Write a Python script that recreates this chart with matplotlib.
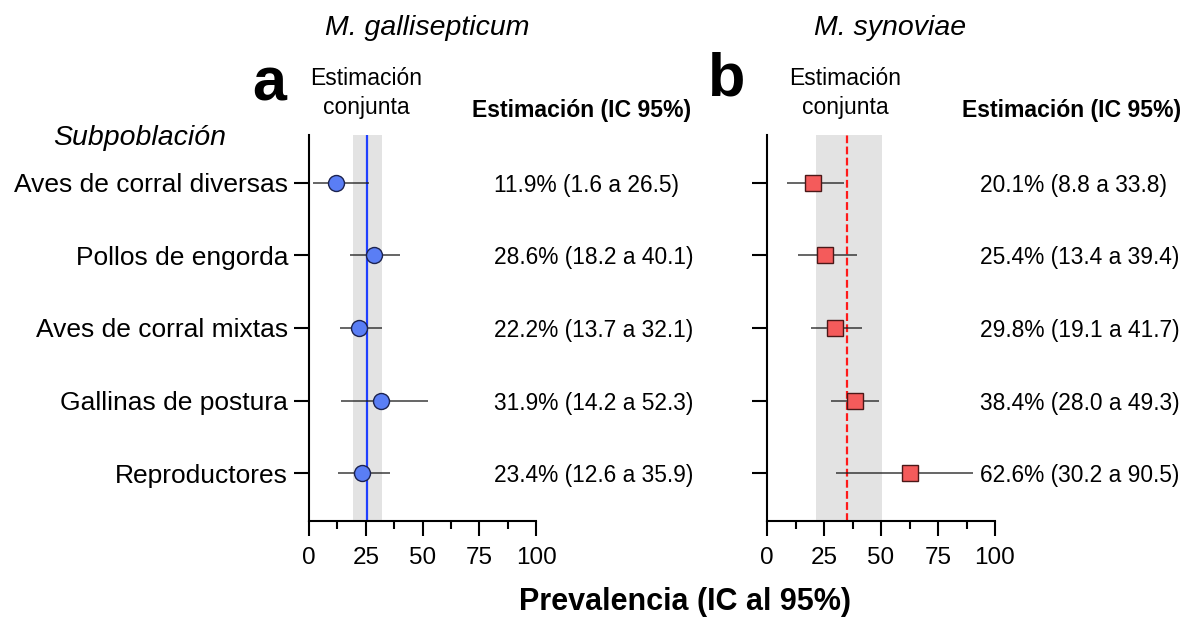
import matplotlib
matplotlib.use("Agg")
import matplotlib.pyplot as plt
from matplotlib.ticker import MultipleLocator
from matplotlib.transforms import blended_transform_factory

plt.rcParams['font.family'] = ['Liberation Sans', 'DejaVu Sans']

# ---------------- data ----------------
subgroups = ["Aves de corral diversas", "Pollos de engorda", "Aves de corral mixtas",
             "Gallinas de postura", "Reproductores"]

mg_est = [11.9, 28.6, 22.2, 31.9, 23.4]
mg_lo = [1.6, 18.2, 13.7, 14.2, 12.6]
mg_hi = [26.5, 40.1, 32.1, 52.3, 35.9]
mg_pooled = 25.4
mg_pooled_lo = 19.5
mg_pooled_hi = 32.0

ms_est = [20.1, 25.4, 29.8, 38.4, 62.6]
ms_lo = [8.8, 13.4, 19.1, 28.0, 30.2]
ms_hi = [33.8, 39.4, 41.7, 49.3, 90.5]
ms_pooled = 35.2
ms_pooled_lo = 21.7
ms_pooled_hi = 50.6

x_ticks = [0, 25, 50, 75, 100]
x_tick_labels = ["0", "25", "50", "75", "100"]

W, H = 1191, 621
fig = plt.figure(figsize=(W / 100, H / 100), dpi=100)

def fx(px):
    return px / W

def fy(py):
    return 1 - py / H

axL = fig.add_axes([fx(309), fy(521), fx(536) - fx(309), fy(135) - fy(521)])
axR = fig.add_axes([fx(767), fy(521), fx(995) - fx(767), fy(135) - fy(521)])

rows = list(range(1, len(subgroups) + 1))

def style_axis(ax, show_labels):
    ax.set_xlim(0, 100)
    ax.set_ylim(len(subgroups) + 0.66, 0.34)
    for s in ['top', 'right']:
        ax.spines[s].set_visible(False)
    for s in ['left', 'bottom']:
        ax.spines[s].set_linewidth(1.5)
    ax.set_xticks(x_ticks)
    ax.set_xticklabels(x_tick_labels, fontsize=17.5)
    ax.xaxis.set_minor_locator(MultipleLocator(12.5))
    ax.tick_params(axis='x', which='major', length=11, width=1.5, pad=8)
    ax.tick_params(axis='x', which='minor', length=6, width=1.5)
    ax.set_yticks(rows)
    if show_labels:
        ax.set_yticklabels(subgroups, fontsize=19)
    else:
        ax.set_yticklabels([])
    ax.tick_params(axis='y', which='major', length=11, width=1.5, pad=4)
    ax.tick_params(axis='y', which='minor', left=False)

def draw_panel(ax, est, lo, hi, pooled, plo, phi, marker, face, edge, line_color, line_style):
    ax.axvspan(plo, phi, color='#e3e3e3', zorder=0, lw=0)
    if line_style == 'solid':
        ax.axvline(pooled, color=line_color, lw=1.6, zorder=1)
    else:
        ax.axvline(pooled, color=line_color, lw=1.6, zorder=1, dashes=(3.5, 1.5))
    xerr = [[e - l for e, l in zip(est, lo)], [h - e for e, h in zip(est, hi)]]
    ax.errorbar(est, rows, xerr=xerr, fmt='none', ecolor='#1a1a1a', elinewidth=1.1,
                alpha=0.85, capsize=0, zorder=2)
    ax.plot(est, rows, linestyle='none', marker=marker, markersize=11.5,
            markerfacecolor=face, markeredgecolor=edge, markeredgewidth=1.0, zorder=3)

draw_panel(axL, mg_est, mg_lo, mg_hi, mg_pooled, mg_pooled_lo, mg_pooled_hi,
           'o', '#5a7ef5', '#1c2350', '#1f3fff', 'solid')
draw_panel(axR, ms_est, ms_lo, ms_hi, ms_pooled, ms_pooled_lo, ms_pooled_hi,
           's', '#f45b5b', '#4a1818', '#ff1a1a', 'dashed')

style_axis(axL, True)
style_axis(axR, False)

# estimate text columns
def fmt(e, l, h):
    return f"{e:.1f}% ({l:.1f} a {h:.1f})"

trL = blended_transform_factory(fig.transFigure, axL.transData)
trR = blended_transform_factory(fig.transFigure, axR.transData)
for i, r in enumerate(rows):
    axL.text(fx(494), r, fmt(mg_est[i], mg_lo[i], mg_hi[i]), transform=trL,
             ha='left', va='center_baseline', fontsize=16.4, clip_on=False)
    axR.text(fx(980), r, fmt(ms_est[i], ms_lo[i], ms_hi[i]), transform=trR,
             ha='left', va='center_baseline', fontsize=16.4, clip_on=False)

# headers
fig.text(fx(427), fy(28), "M. gallisepticum", ha='center', va='center', fontsize=20.5, style='italic')
fig.text(fx(890), fy(28), "M. synoviae", ha='center', va='center', fontsize=20.5, style='italic')
fig.text(fx(269), fy(85), "a", ha='center', va='center', fontsize=44, weight='bold')
fig.text(fx(727), fy(80), "b", ha='center', va='center', fontsize=44, weight='bold')
fig.text(fx(366), fy(93), "Estimación\nconjunta", ha='center', va='center', fontsize=16.5,
         linespacing=1.35)
fig.text(fx(845), fy(93), "Estimación\nconjunta", ha='center', va='center', fontsize=16.5,
         linespacing=1.35)
fig.text(fx(582), fy(110), "Estimación (IC 95%)", ha='center', va='center', fontsize=16.6, weight='bold')
fig.text(fx(1072), fy(110), "Estimación (IC 95%)", ha='center', va='center', fontsize=16.6, weight='bold')
fig.text(fx(140), fy(138), "Subpoblación", ha='center', va='center', fontsize=20.5, style='italic')
fig.text(fx(685), fy(602), "Prevalencia (IC al 95%)", ha='center', va='center', fontsize=22, weight='bold')

fig.savefig("out.png", dpi=100, facecolor='white')
